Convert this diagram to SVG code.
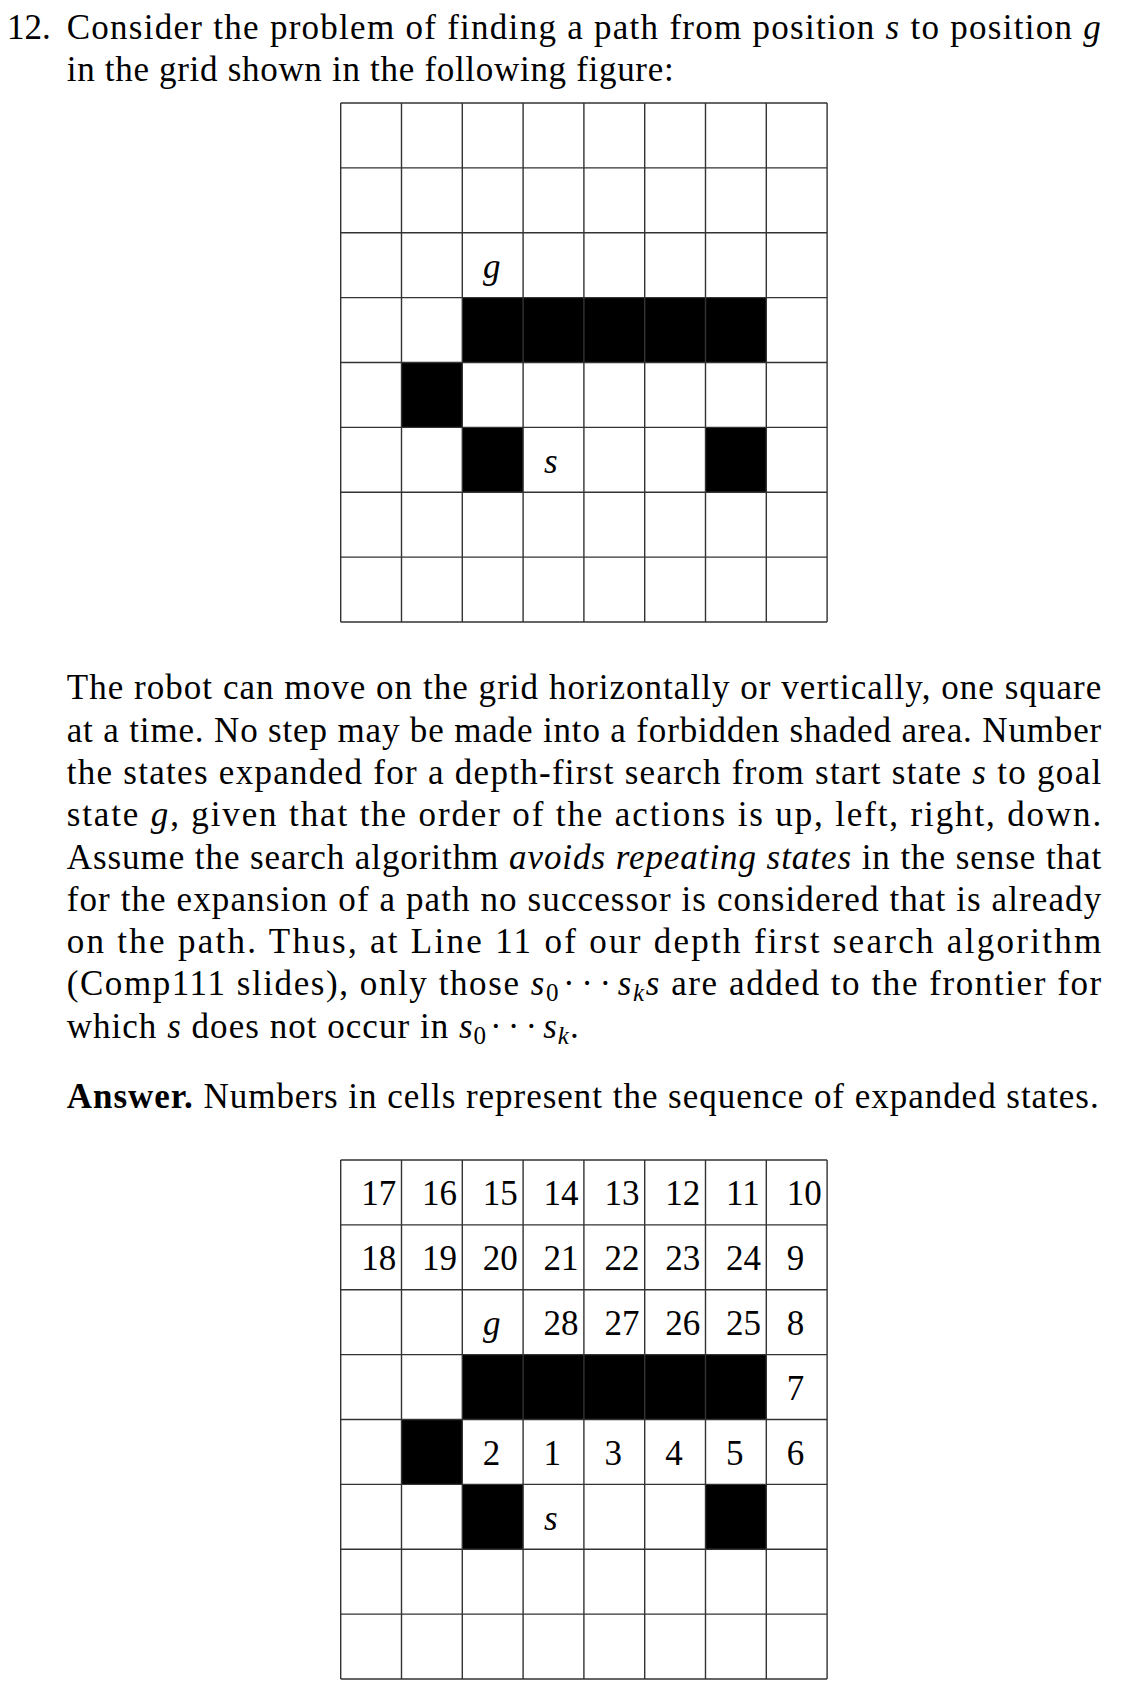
<svg xmlns="http://www.w3.org/2000/svg" width="1121" height="1699" viewBox="0 0 1121 1699">
<style>
.t{font-family:"Liberation Serif","Times New Roman",serif;font-size:35px;fill:#000}
.i{font-style:italic}
.b{font-weight:bold}
.sub{font-size:25px}
.grid{fill:none;stroke:#333;stroke-width:1.4}
.blk{fill:#000}
.dots{letter-spacing:5px}
</style>
<rect width="1121" height="1699" fill="#fff"/>
<g id="question-text">
<text class="t" x="7" y="39">12.</text>
<text class="t" x="66.7" y="39" textLength="1034" lengthAdjust="spacing">Consider the problem of finding a path from position <tspan class="i">s</tspan> to position <tspan class="i">g</tspan></text>
<text class="t" x="66.7" y="81" textLength="607" lengthAdjust="spacing">in the grid shown in the following figure:</text>
</g>
<g id="grid-problem">
<rect class="blk" x="462.3" y="297.625" width="304" height="64.875"/>
<rect class="blk" x="401.5" y="362.5" width="60.8" height="64.875"/>
<rect class="blk" x="462.3" y="427.375" width="60.8" height="64.875"/>
<rect class="blk" x="705.5" y="427.375" width="60.8" height="64.875"/>
<path class="grid" d="M340.7 103V622M401.5 103V622M462.3 103V622M523.1 103V622M583.9 103V622M644.7 103V622M705.5 103V622M766.3 103V622M827.1 103V622M340.7 103H827.1M340.7 167.875H827.1M340.7 232.75H827.1M340.7 297.625H827.1M340.7 362.5H827.1M340.7 427.375H827.1M340.7 492.25H827.1M340.7 557.125H827.1M340.7 622H827.1"/>
<text class="t i" x="483" y="278">g</text>
<text class="t i" x="544" y="472.7">s</text>
</g>
<g id="paragraph">
<text class="t" x="66.7" y="699.3" textLength="1034.5" lengthAdjust="spacing">The robot can move on the grid horizontally or vertically, one square</text>
<text class="t" x="66.7" y="741.6" textLength="1034.5" lengthAdjust="spacing">at a time. No step may be made into a forbidden shaded area. Number</text>
<text class="t" x="66.7" y="783.9" textLength="1034.5" lengthAdjust="spacing">the states expanded for a depth-first search from start state <tspan class="i">s</tspan> to goal</text>
<text class="t" x="66.7" y="826.2" textLength="1034.5" lengthAdjust="spacing">state <tspan class="i">g</tspan>, given that the order of the actions is up, left, right, down.</text>
<text class="t" x="66.7" y="868.5" textLength="1034.5" lengthAdjust="spacing">Assume the search algorithm <tspan class="i">avoids repeating states</tspan> in the sense that</text>
<text class="t" x="66.7" y="910.8" textLength="1034.5" lengthAdjust="spacing">for the expansion of a path no successor is considered that is already</text>
<text class="t" x="66.7" y="953.1" textLength="1034.5" lengthAdjust="spacing">on the path. Thus, at Line 11 of our depth first search algorithm</text>
<text class="t" x="66.7" y="995.4" textLength="1034.5" lengthAdjust="spacing">(Comp111 slides), only those <tspan class="i">s</tspan><tspan class="sub" dy="6">0</tspan><tspan class="dots" dx="3" dy="-6">···</tspan><tspan class="i">s</tspan><tspan class="sub i" dy="6">k</tspan><tspan class="i" dy="-6">s</tspan> are added to the frontier for</text>
<text class="t" x="66.7" y="1037.7" textLength="512" lengthAdjust="spacing">which <tspan class="i">s</tspan> does not occur in <tspan class="i">s</tspan><tspan class="sub" dy="6">0</tspan><tspan class="dots" dx="3" dy="-6">···</tspan><tspan class="i">s</tspan><tspan class="sub i" dy="6">k</tspan><tspan dy="-6">.</tspan></text>
</g>
<g id="answer-text">
<text class="t" x="66.7" y="1108" textLength="1032" lengthAdjust="spacing"><tspan class="b">Answer.</tspan> Numbers in cells represent the sequence of expanded states.</text>
</g>
<g id="grid-answer">
<rect class="blk" x="462.3" y="1354.625" width="304" height="64.875"/>
<rect class="blk" x="401.5" y="1419.5" width="60.8" height="64.875"/>
<rect class="blk" x="462.3" y="1484.375" width="60.8" height="64.875"/>
<rect class="blk" x="705.5" y="1484.375" width="60.8" height="64.875"/>
<path class="grid" d="M340.7 1160V1679M401.5 1160V1679M462.3 1160V1679M523.1 1160V1679M583.9 1160V1679M644.7 1160V1679M705.5 1160V1679M766.3 1160V1679M827.1 1160V1679M340.7 1160H827.1M340.7 1224.875H827.1M340.7 1289.75H827.1M340.7 1354.625H827.1M340.7 1419.5H827.1M340.7 1484.375H827.1M340.7 1549.25H827.1M340.7 1614.125H827.1M340.7 1679H827.1"/>
<g class="t">
<text x="361.2" y="1205.3">17</text><text x="422" y="1205.3">16</text><text x="482.8" y="1205.3">15</text><text x="543.6" y="1205.3">14</text><text x="604.4" y="1205.3">13</text><text x="665.2" y="1205.3">12</text><text x="726" y="1205.3">11</text><text x="786.8" y="1205.3">10</text>
<text x="361.2" y="1270.2">18</text><text x="422" y="1270.2">19</text><text x="482.8" y="1270.2">20</text><text x="543.6" y="1270.2">21</text><text x="604.4" y="1270.2">22</text><text x="665.2" y="1270.2">23</text><text x="726" y="1270.2">24</text><text x="786.8" y="1270.2">9</text>
<text class="i" x="483" y="1335.05">g</text><text x="543.6" y="1335.05">28</text><text x="604.4" y="1335.05">27</text><text x="665.2" y="1335.05">26</text><text x="726" y="1335.05">25</text><text x="786.8" y="1335.05">8</text>
<text x="786.8" y="1399.9">7</text>
<text x="482.8" y="1464.8">2</text><text x="543.6" y="1464.8">1</text><text x="604.4" y="1464.8">3</text><text x="665.2" y="1464.8">4</text><text x="726" y="1464.8">5</text><text x="786.8" y="1464.8">6</text>
<text class="i" x="544" y="1529.7">s</text>
</g>
</g>
</svg>
